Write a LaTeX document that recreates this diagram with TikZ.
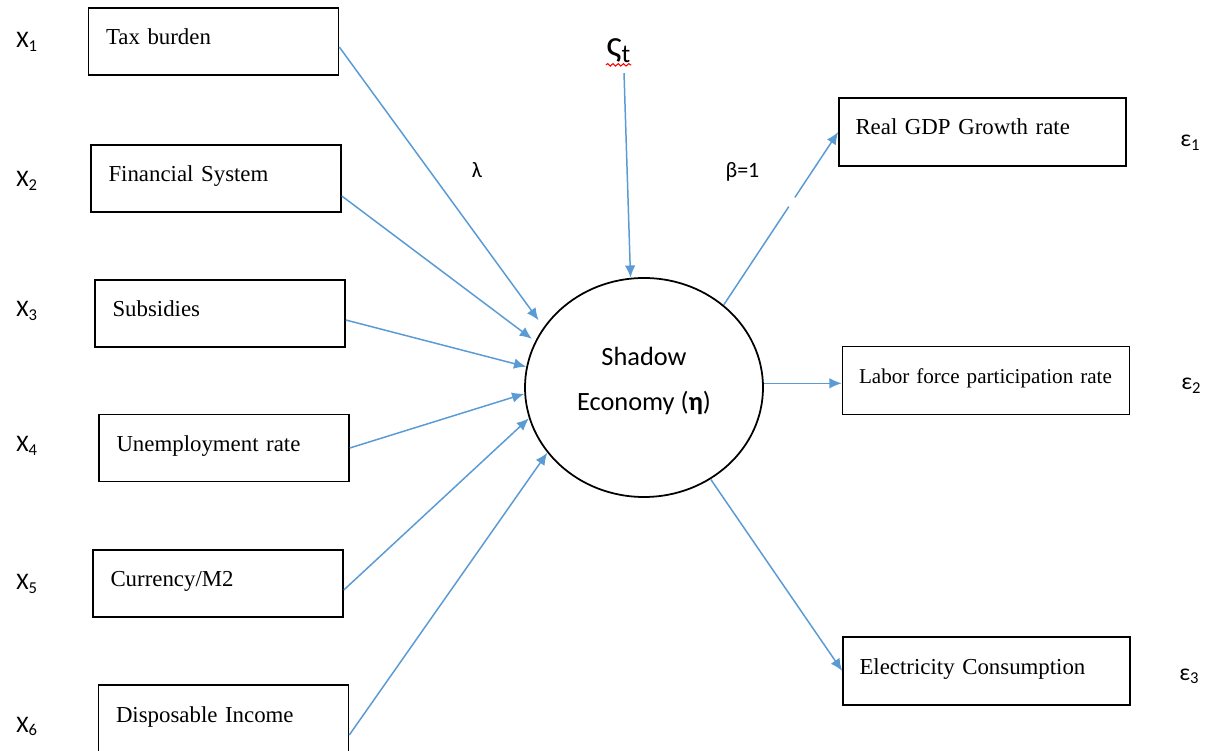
\documentclass[tikz,border=0pt]{standalone}
\usepackage{fontspec}
\setmainfont{Liberation Serif}
\newfontfamily\calib{Carlito}
\usepackage{xcolor}
\usepackage{tikz}
\usetikzlibrary{shapes,arrows.meta,positioning,calc,decorations.pathmorphing}
\definecolor{linkblue}{HTML}{5B9BD5}

\begin{document}
\begin{tikzpicture}[
    cause/.style={rectangle, draw=black, line width=0.9pt, minimum width=5cm, inner sep=0pt, inner xsep=0.35cm, text width=4.3cm, text height=0.74cm, text depth=0.6cm, align=left, font=\fontsize{13}{15}\selectfont},
    indic/.style={cause, minimum width=5.74cm, inner xsep=0.33cm, text width=5.08cm, text depth=0.62cm},
    latent/.style={ellipse, draw=black, line width=1pt, minimum width=4.76cm, minimum height=4.38cm, text depth=0.33cm, align=center, font=\calib\fontsize{15}{25.5}\selectfont},
    varlabel/.style={inner sep=0pt, anchor=base west, font=\calib\fontsize{13.5}{15}\selectfont},
    coef/.style={inner sep=0pt, anchor=base, font=\calib\fontsize{12.5}{14}\selectfont},
    arrow/.style={-{Latex[length=7pt,width=6pt]}, linkblue, line width=0.85pt}]

\useasboundingbox (0,0) rectangle (24.3,-15.02);

% Causes (left)
\node[cause] (tax) at (4.27,-0.83) {Tax burden};
\node[cause] (fin) at (4.32,-3.57) {Financial System};
\node[cause] (sub) at (4.40,-6.27) {Subsidies};
\node[cause] (unemp) at (4.48,-8.96) {Unemployment rate};
\node[cause] (cur) at (4.36,-11.67) {Currency/M2};
\node[cause] (disp) at (4.47,-14.37) {Disposable Income};

\node[varlabel] (x1) at (0.32,-0.96) {X\textsubscript{1}};
\node[varlabel] (x2) at (0.32,-3.74) {X\textsubscript{2}};
\node[varlabel] (x3) at (0.32,-6.34) {X\textsubscript{3}};
\node[varlabel] (x4) at (0.32,-9.04) {X\textsubscript{4}};
\node[varlabel] (x5) at (0.32,-11.80) {X\textsubscript{5}};
\node[varlabel] (x6) at (0.32,-14.64) {X\textsubscript{6}};

% Latent variable
\node[latent] (eco) at (12.88,-7.75) {Shadow\\Economy (\textbf{η})};
\node[inner sep=0pt, anchor=base west, font=\calib\fontsize{21}{22}\selectfont] (zeta) at (12.12,-1.14) {ς\textsubscript{t}};
\draw[red, line width=0.6pt, decorate, decoration={snake, segment length=3pt, amplitude=0.7pt}]
    ([yshift=-1pt]zeta.south west) -- ([yshift=-1pt]zeta.south east);

% Indicators (right)
\node[indic] (gdp) at (19.65,-2.64) {Real GDP Growth rate};
\node[indic, font=\fontsize{12}{14}\selectfont] (labor) at (19.72,-7.61) {Labor force participation rate};
\node[indic] (elec) at (19.73,-13.42) {Electricity Consumption};

\node[varlabel] (e1) at (23.6,-2.94) {ε\textsubscript{1}};
\node[varlabel] (e2) at (23.62,-7.80) {ε\textsubscript{2}};
\node[varlabel] (e3) at (23.58,-13.60) {ε\textsubscript{3}};

% Coefficients
\node[coef] (lambda) at (9.54,-3.56) {λ};
\node[coef] (beta) at (14.85,-3.56) {β=1};

% Paths into the latent variable
\draw[arrow, shorten >=0.17cm] ([yshift=-0.11cm]tax.east) -- (eco.149);
\draw[arrow, shorten >=0.08cm] ([yshift=-0.35cm]fin.east) -- (eco.157);
\draw[arrow] ([yshift=-0.13cm]sub.east) -- (eco.170);
\draw[arrow] (unemp.east) -- (eco.183);
\draw[arrow] ([yshift=-0.13cm]cur.east) -- (eco.195);
\draw[arrow] ([yshift=-0.33cm]disp.east) -- (eco.214);
\draw[arrow, shorten <=0.2cm] ([xshift=0.1cm]zeta.south) -- (eco.97);

% Paths out to the indicators
\draw[arrow, dash pattern=on 2.36cm off 0.22cm on 5cm] (eco.46) -- (gdp.west);
\draw[arrow] (eco.2) -- (eco.2 -| labor.west);
\draw[arrow] (eco.-54) -- (elec.west);

\end{tikzpicture}
\end{document}
